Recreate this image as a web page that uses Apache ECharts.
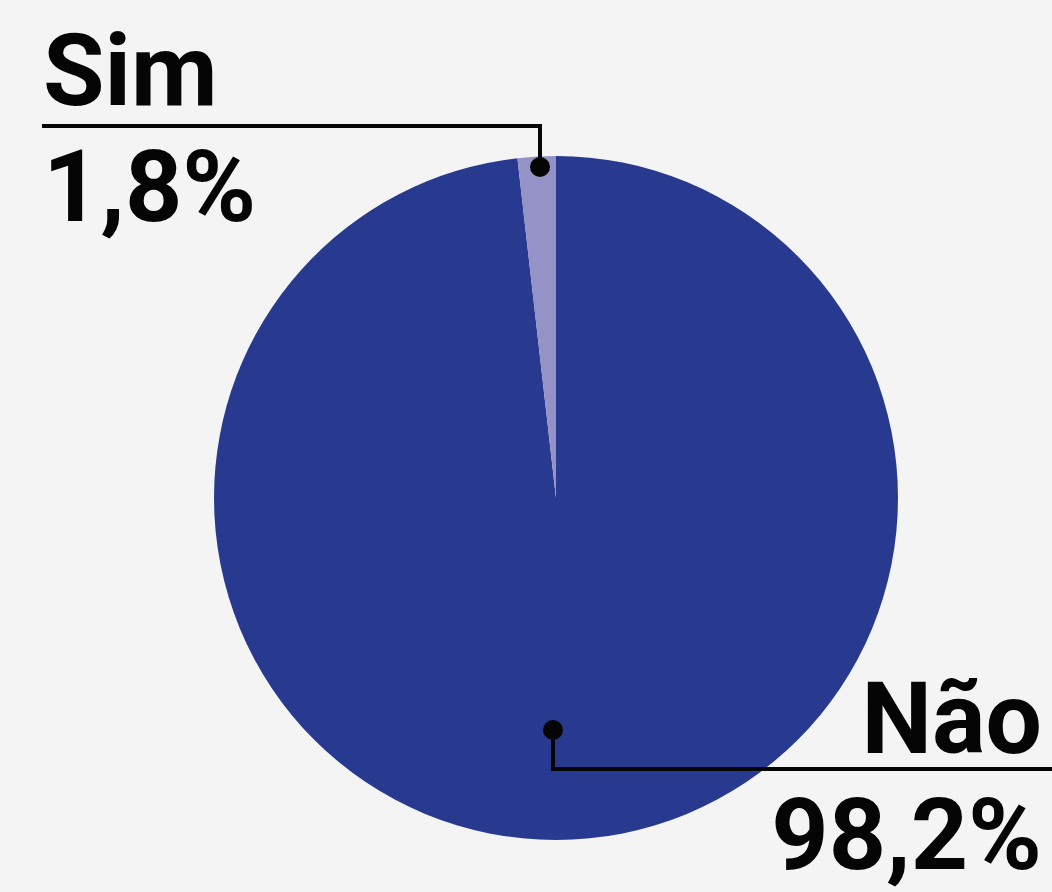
<!DOCTYPE html>
<html><head><meta charset="utf-8">
<script src="https://cdn.jsdelivr.net/npm/echarts@6/dist/echarts.min.js"></script>
<style>html,body{margin:0;padding:0;background:#f3f4f3;}#c{width:1052px;height:892px;}</style>
</head><body><div id="c"></div>
<script>
const categories = ['Não', 'Sim'];
const values = [98.2, 1.8];
const colors = ['#283a8f', '#9492c6'];
const valueLabels = ['98,2%', '1,8%'];

const chart = echarts.init(document.getElementById('c'), null, {renderer: 'canvas'});
const font = 'Roboto';
const lineW = 4;
const ink = '#050505';
chart.setOption({
  backgroundColor: '#f3f4f3',
  animation: false,
  series: [{
    type: 'pie',
    z: 1,
    center: [556, 498],
    radius: [0, 342],
    startAngle: 90,
    clockwise: true,
    label: {show: false},
    labelLine: {show: false},
    itemStyle: {borderWidth: 0},
    emphasis: {disabled: true},
    data: categories.map((c, i) => ({name: c, value: values[i], itemStyle: {color: colors[i]}}))
  }],
  graphic: {
    elements: [
      {type: 'polyline', z: 100, shape: {points: [[42, 126], [540, 126], [540, 167]]}, style: {stroke: ink, lineWidth: lineW, fill: null}},
      {type: 'circle', z: 100, shape: {cx: 540, cy: 167, r: 10}, style: {fill: ink}},
      {type: 'text', z: 100, x: 43, y: 80, style: {text: categories[1], font: 'bold 100px ' + font, fill: ink, textAlign: 'left', textVerticalAlign: 'middle'}},
      {type: 'text', z: 100, x: 43, y: 196, style: {text: valueLabels[1], font: 'bold 100px ' + font, fill: ink, textAlign: 'left', textVerticalAlign: 'middle'}},
      {type: 'polyline', z: 100, shape: {points: [[553, 730], [553, 769], [1052, 769]]}, style: {stroke: ink, lineWidth: lineW, fill: null}},
      {type: 'circle', z: 100, shape: {cx: 553, cy: 730, r: 10}, style: {fill: ink}},
      {type: 'text', z: 100, x: 1042, y: 728, style: {text: categories[0], font: 'bold 100px ' + font, fill: ink, textAlign: 'right', textVerticalAlign: 'middle'}},
      {type: 'text', z: 100, x: 1042, y: 844, style: {text: valueLabels[0], font: 'bold 100px ' + font, fill: ink, textAlign: 'right', textVerticalAlign: 'middle'}}
    ]
  }
});
</script></body></html>
